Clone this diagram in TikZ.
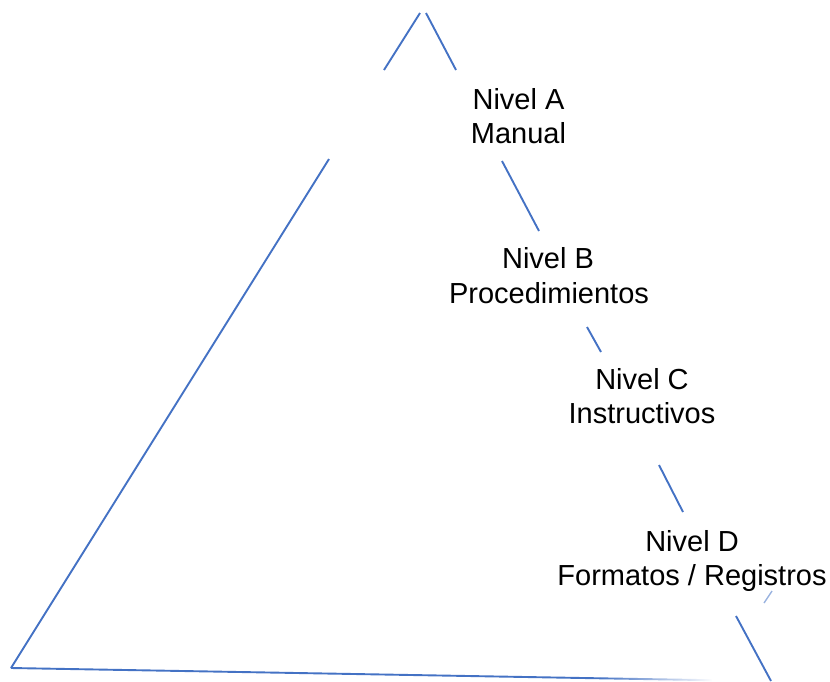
\documentclass[tikz,border=0pt]{standalone}
\usepackage{fontspec}
\setmainfont{Liberation Sans}
\usetikzlibrary{fadings}
\definecolor{edgeblue}{RGB}{68,114,196}
\tikzfading[name=fadeout, left color=transparent!0, right color=transparent!100]
\begin{document}
\begin{tikzpicture}[x=1pt,y=-1pt,
  edge/.style={draw=edgeblue, line width=1.9pt},
  label/.style={anchor=base, inner sep=0pt, font=\fontsize{29}{34}\selectfont}]
\useasboundingbox (0,0) rectangle (830,681);
% left side of the pyramid
\draw[edge] (420,13) -- (384,70);
\draw[edge] (329,159) -- (11,668);
% right side, broken by the level labels
\draw[edge] (426,13) -- (456,70);
\draw[edge] (502,161) -- (539,231);
\draw[edge] (587,327) -- (601,352);
\draw[edge] (659,465) -- (683,512);
\draw[edge, draw opacity=0.55, line width=1.4pt] (772,591) -- (764,603);
\draw[edge] (736,616) -- (771,681);
% base, fading out to the right
\draw[edge] (11,668) -- (600,678.3);
\draw[edge, path fading=fadeout] (600,678.3) -- (712,680.2);
% level labels
\node[label] (nivA)  at (518.5,109) {Nivel A};
\node[label] (txtA)  at (518.5,143) {Manual};
\node[label] (nivB)  at (548,268) {Nivel B};
\node[label] (txtB)  at (549,303) {Procedimientos};
\node[label] (nivC)  at (642,389) {Nivel C};
\node[label] (txtC)  at (642,423) {Instructivos};
\node[label] (nivD)  at (692,551) {Nivel D};
\node[label] (txtD)  at (692,585) {Formatos / Registros};
\end{tikzpicture}
\end{document}
